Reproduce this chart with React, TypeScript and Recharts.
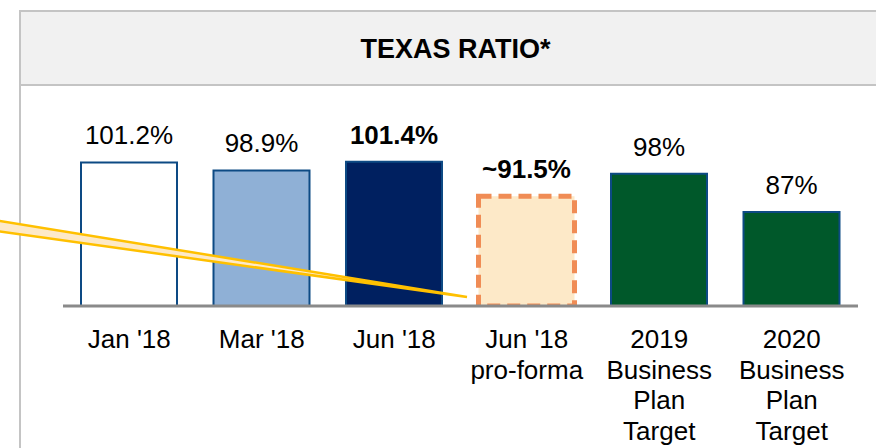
import { BarChart, Bar, XAxis, YAxis, Cell, LabelList } from "recharts";

// chart values
const categories = [
  "Jan '18",
  "Mar '18",
  "Jun '18",
  "Jun '18\npro-forma",
  "2019\nBusiness\nPlan\nTarget",
  "2020\nBusiness\nPlan\nTarget",
];
const ratios = [101.2, 98.9, 101.4, 91.5, 98, 87];
const valueLabels = ["101.2%", "98.9%", "101.4%", "~91.5%", "98%", "87%"];
const title = "TEXAS RATIO*";

const FONT = "Arial, 'Liberation Sans', Helvetica, sans-serif";
const EDGE = "#0d4a84";

const BAR_STYLES = [
  { fill: "#ffffff", stroke: EDGE, strokeWidth: 2 },
  { fill: "#8fb0d6", stroke: EDGE, strokeWidth: 2 },
  { fill: "#002060", stroke: EDGE, strokeWidth: 2 },
  { fill: "#fde9c8", stroke: "#f08c55", strokeWidth: 5, strokeDasharray: "13 7" },
  { fill: "#00582a", stroke: EDGE, strokeWidth: 2 },
  { fill: "#00582a", stroke: EDGE, strokeWidth: 2 },
];
const BOLD_LABELS = [2, 3];

const chartData = categories.map((name, i) => ({
  name,
  ratio: ratios[i],
  label: valueLabels[i],
}));

function CategoryTick(props: any) {
  const { x, y, payload } = props;
  const lines = String(payload.value).split("\n");
  return (
    <text x={x} y={y} textAnchor="middle" fontSize={26} fontFamily={FONT} fill="#000">
      {lines.map((line, i) => (
        <tspan key={i} x={x} dy={i === 0 ? 42 : 30.5}>
          {line}
        </tspan>
      ))}
    </text>
  );
}

function ValueLabel(props: any) {
  const { x, y, width, index, value } = props;
  return (
    <text
      x={Number(x) + Number(width) / 2}
      y={Number(y) - 18}
      textAnchor="middle"
      fontSize={26}
      fontFamily={FONT}
      fontWeight={BOLD_LABELS.includes(index) ? 700 : 400}
      fill="#000"
    >
      {value}
    </text>
  );
}

export default function App() {
  return (
    <div
      style={{
        position: "absolute",
        left: 0,
        top: 0,
        width: 876,
        height: 448,
        overflow: "hidden",
        background: "#fff",
      }}
    >
      {/* panel frame + grey header band */}
      <div
        style={{
          position: "absolute",
          left: 19,
          top: 10,
          width: 920,
          height: 500,
          borderLeft: "2.5px solid #c4c4c4",
          borderTop: "2px solid #c4c4c4",
        }}
      />
      <div
        style={{
          position: "absolute",
          left: 21,
          top: 12,
          width: 920,
          height: 72,
          background: "#f1f1f1",
          borderBottom: "2px solid #c4c4c4",
        }}
      />

      <div style={{ position: "absolute", left: 0, top: 0 }}>
        <BarChart
          width={876}
          height={448}
          data={chartData}
          margin={{ top: 97, right: 18, bottom: 0, left: 63 }}
        >
          <YAxis hide width={0} domain={[60, 120]} allowDataOverflow />
          <Bar dataKey="ratio" barSize={96} isAnimationActive={false}>
            {chartData.map((d, i) => (
              <Cell key={d.name} {...BAR_STYLES[i]} />
            ))}
            <LabelList dataKey="label" content={<ValueLabel />} />
          </Bar>
          <XAxis
            dataKey="name"
            height={142}
            interval={0}
            tickLine={false}
            tickSize={0}
            tickMargin={0}
            axisLine={{ stroke: "#8a8a8a", strokeWidth: 3 }}
            tick={<CategoryTick />}
          />
        </BarChart>
      </div>

      {/* title and callout pointer */}
      <svg
        width={876}
        height={448}
        style={{ position: "absolute", left: 0, top: 0, pointerEvents: "none" }}
      >
        <text
          x={455.5}
          y={57.5}
          textAnchor="middle"
          fontSize={27}
          fontWeight={700}
          fontFamily={FONT}
          fill="#000"
        >
          {title}
        </text>
        <polygon
          points="-10,219.4 467,297 -10,230.1"
          fill="#fde9c8"
          stroke="#ffc000"
          strokeWidth={2.5}
          strokeLinejoin="miter"
        />
      </svg>
    </div>
  );
}
